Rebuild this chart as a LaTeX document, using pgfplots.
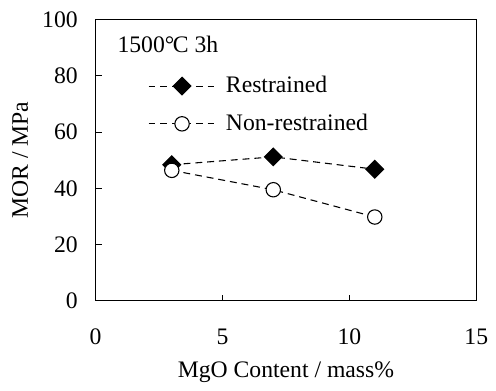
\documentclass[border=0pt]{standalone}
\usepackage{fontspec}
\setmainfont{Liberation Serif}
\usepackage{pgfplots}
\pgfplotsset{compat=1.18}
\begin{document}
\fontsize{24bp}{28bp}\selectfont
\begin{tikzpicture}
\begin{axis}[
  name=ax,
  scale only axis, width=386bp, height=285bp,
  xmin=0, xmax=15, ymin=0, ymax=100,
  xtick={0,5,10,15}, ytick={0,20,40,60,80,100},
  tick pos=left, tick align=inside, major tick length=6bp,
  axis line style={line width=1.2bp},
  every tick/.style={line width=1bp, black},
  /pgf/number format/assume math mode=true,
  tick label style={font=\fontsize{24bp}{28bp}\selectfont},
  yticklabel style={xshift=-10bp},
  xticklabel style={yshift=-20bp},
  label style={font=\fontsize{24bp}{28bp}\selectfont},
  xlabel={MgO Content / mass\%},
  ylabel={MOR / MPa},
  xlabel style={yshift=-1bp},
  ylabel style={yshift=-2bp},
  clip=false,
  legend style={draw=none, fill=none, at={(rel axis cs:0.137,0.80)}, anchor=north west,
    font=\fontsize{24bp}{28bp}\selectfont, row sep=18bp, inner sep=0pt,
    nodes={inner sep=0pt}, column sep=12bp},
  legend cell align=left,
  legend image code/.code={\draw[mark repeat=2,mark phase=2] plot coordinates {(0bp,0bp)(34bp,0bp)(66bp,0bp)};},
]
\addplot[black, line width=1.1bp, dash pattern=on 7bp off 5bp, mark=square*, mark size=6.3bp,
  mark options={solid, rotate=45, fill=black}]
  coordinates {(3,48.4) (7,51.2) (11,46.8)};
\addlegendentry{Restrained}
\addplot[black, line width=1.1bp, dash pattern=on 7bp off 5bp, mark=*, mark size=7.3bp,
  mark options={solid, fill=white, line width=1.1bp}]
  coordinates {(3,46.4) (7,39.5) (11,29.8)};
\addlegendentry{Non-restrained}
\node[anchor=west, inner sep=0pt] at (rel axis cs:0.057,0.912) {1500°\kern-1.5bp C 3h};
\end{axis}
\path[use as bounding box] ([xshift=-97bp,yshift=-78bp]ax.south west) rectangle ([xshift=13bp,yshift=20bp]ax.north east);
\end{tikzpicture}
\end{document}
